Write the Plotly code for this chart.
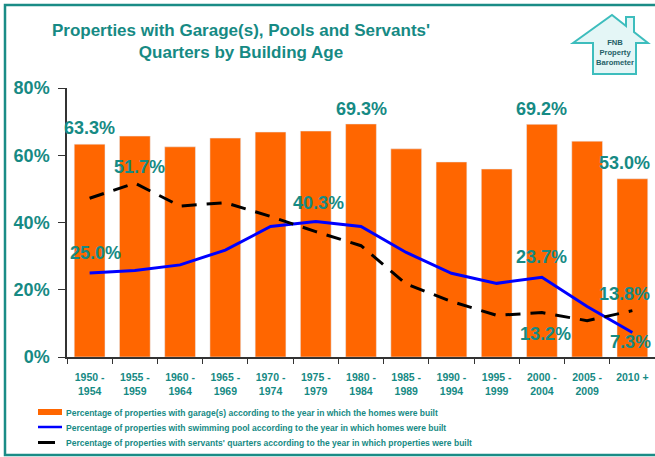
import plotly.graph_objects as go

categories = ["1950 -<br>1954", "1955 -<br>1959", "1960 -<br>1964", "1965 -<br>1969",
              "1970 -<br>1974", "1975 -<br>1979", "1980 -<br>1984", "1985 -<br>1989",
              "1990 -<br>1994", "1995 -<br>1999", "2000 -<br>2004", "2005 -<br>2009",
              "2010 +"]
garage = [63.3, 65.7, 62.5, 65.1, 66.9, 67.2, 69.3, 61.9, 58.0, 55.9, 69.2, 64.2, 53.0]
pool = [25.0, 25.7, 27.4, 31.8, 38.8, 40.3, 38.8, 31.1, 24.9, 21.9, 23.7, 15.0, 7.3]
servants = [47.2, 51.7, 44.9, 45.9, 41.8, 37.3, 33.1, 21.7, 16.5, 12.4, 13.2, 10.8, 13.8]
y_ticks = [0, 20, 40, 60, 80]
y_tick_labels = ["0%", "20%", "40%", "60%", "80%"]

legend_names = [
    "Percentage of properties with garage(s) according to the year in which the homes were built",
    "Percentage of properties with swimming pool according to the year in which homes were built",
    "Percentage of properties with servants' quarters according to the year in which properties were built",
]
title_text = "Properties with Garage(s), Pools and Servants'<br>Quarters by Building Age"

TEAL = "#168a84"
ORANGE = "#ff6600"
BLUE = "#0000ff"
W, H = 655, 457
ML, MR, MT, MB = 67, 0, 88, 100
PW, PH = W - ML - MR, H - MT - MB
SANS = "Liberation Sans, Arial"


def px(x):
    return (x - ML) / PW


def py(y):
    return (H - MB - y) / PH


fig = go.Figure()
fig.add_trace(go.Bar(x=categories, y=garage, marker_color=ORANGE, width=0.68,
                     name=legend_names[0], showlegend=False))
fig.add_trace(go.Scatter(x=categories, y=pool, mode="lines", line=dict(color=BLUE, width=3),
                         name=legend_names[1], showlegend=False))
fig.add_trace(go.Scatter(x=categories, y=servants, mode="lines",
                         line=dict(color="black", width=3, dash="15px,10px"),
                         name=legend_names[2], showlegend=False))

# data labels: (series, index, xshift, yshift)
label_specs = [
    (garage, 0, 0, 16), (garage, 6, 0, 15), (garage, 10, 0, 15), (garage, 12, -8, 16),
    (pool, 0, 6, 20), (pool, 5, 3, 18), (pool, 10, 0, 20), (pool, 12, -2, -10),
    (servants, 1, 5, 16), (servants, 10, 4, -21), (servants, 12, -8, 17),
]
annotations = []
for series, i, xs, ys in label_specs:
    annotations.append(dict(x=categories[i], y=series[i], xref="x", yref="y",
                            text=f"{series[i]:.1f}%", showarrow=False,
                            xshift=xs, yshift=ys, yanchor="middle",
                            font=dict(family=SANS, size=18, color=TEAL, weight="bold")))

# custom legend
shapes = []
shapes.append(dict(type="rect", xref="paper", yref="paper", x0=px(38), x1=px(62),
                   y0=py(415), y1=py(409), fillcolor=ORANGE, line=dict(width=0)))
shapes.append(dict(type="line", xref="paper", yref="paper", x0=px(38), x1=px(62),
                   y0=py(427), y1=py(427), line=dict(color=BLUE, width=2.5)))
shapes.append(dict(type="line", xref="paper", yref="paper", x0=px(38), x1=px(55),
                   y0=py(442.5), y1=py(442.5), line=dict(color="black", width=3)))
for name, yy in zip(legend_names, [412.5, 427.5, 443.5]):
    annotations.append(dict(x=px(64), y=py(yy), xref="paper", yref="paper", text=name,
                            showarrow=False, xanchor="left", yanchor="middle",
                            font=dict(family=SANS, size=8.5, color=TEAL, weight="bold")))

# frame
shapes.append(dict(type="rect", xref="paper", yref="paper", x0=px(5), x1=px(700),
                   y0=py(455), y1=py(5), line=dict(color="#1a8c86", width=2.5),
                   fillcolor="rgba(0,0,0,0)"))

# logo house
pts = [(573, 43), (612, 15), (626, 26), (626, 17), (634, 17), (634, 32), (648, 43),
       (636, 43), (636, 74), (593, 74), (593, 43)]
path = "M " + " L ".join(f"{px(a):.5f},{py(b):.5f}" for a, b in pts) + " Z"
shapes.append(dict(type="path", xref="paper", yref="paper", path=path,
                   fillcolor="#e4f6f6", line=dict(color="#3dbdbd", width=2)))
annotations.append(dict(x=px(614.5), y=py(53), xref="paper", yref="paper",
                        text="FNB<br>Property<br>Barometer", showarrow=False,
                        xanchor="center", yanchor="middle",
                        font=dict(family=SANS, size=7.6, color="#1f5f66", weight="bold")))

fig.update_layout(
    width=W, height=H,
    margin=dict(l=ML, r=MR, t=MT, b=MB),
    paper_bgcolor="white", plot_bgcolor="white",
    title=dict(text=title_text, x=px(241), xref="paper", xanchor="center",
               y=1 - 36 / H, yref="container", yanchor="middle",
               font=dict(family=SANS, size=17, color=TEAL, weight="bold")),
    showlegend=False,
    annotations=annotations,
    shapes=shapes,
    xaxis=dict(type="category", showline=True, linecolor="#333", linewidth=1.5,
               ticks="outside", tickson="boundaries", ticklen=5, tickcolor="#333",
               ticklabelstandoff=10,
               tickfont=dict(family=SANS, size=10.5, color=TEAL, weight="bold"),
               showgrid=False, range=[-0.5, 12.5]),
    yaxis=dict(range=[0, 80], tickmode="array", tickvals=y_ticks, ticktext=y_tick_labels,
               showline=True, linecolor="#333", linewidth=1.5, ticks="outside",
               ticklen=7, tickcolor="#333", showgrid=False, zeroline=False,
               ticklabelstandoff=5,
               tickfont=dict(family=SANS, size=18, color=TEAL, weight="bold")),
)
fig.write_html("out.html", config={"displayModeBar": False},
               post_script="document.body.style.margin='0';document.body.style.padding='0';")
